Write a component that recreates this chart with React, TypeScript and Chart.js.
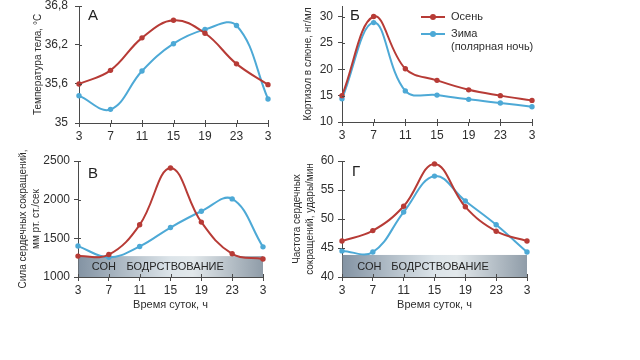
import React, { useEffect, useRef } from "react";
import { Chart, registerables } from "chart.js";

Chart.register(...registerables);

// ---------- data ----------
const hours = ["3", "7", "11", "15", "19", "23", "3"];

const tempAutumn = [35.6, 35.81, 36.31, 36.58, 36.38, 35.91, 35.59];
const tempWinter = [35.42, 35.21, 35.8, 36.22, 36.44, 36.5, 35.37];
const tempTicks = [35, 35.6, 36.2, 36.8];
const tempTickLabels = ["35", "35,6", "36,2", "36,8"];

const cortAutumn = [15, 30, 20.1, 17.9, 16.1, 15, 14.1];
const cortWinter = [14.4, 28.85, 15.9, 15.1, 14.3, 13.6, 12.9];
const cortTicks = [10, 15, 20, 25, 30];
const cortTickLabels = ["10", "15", "20", "25", "30"];

const forceAutumn = [1270, 1290, 1675, 2410, 1710, 1300, 1232];
const forceWinter = [1400, 1255, 1395, 1640, 1850, 2010, 1390];
const forceTicks = [1000, 1500, 2000, 2500];
const forceTickLabels = ["1000", "1500", "2000", "2500"];

const rateAutumn = [46.2, 48.0, 52.2, 59.5, 52.1, 47.9, 46.2];
const rateWinter = [44.5, 44.3, 51.2, 57.4, 53.1, 49.0, 44.3];
const rateTicks = [40, 45, 50, 55, 60];
const rateTickLabels = ["40", "45", "50", "55", "60"];

const bandLabels = ["СОН", "БОДРСТВОВАНИЕ"];
const seriesNames = ["Осень", "Зима", "(полярная ночь)"];

// ---------- styles ----------
const FONT = '"Liberation Sans", Arial, Helvetica, sans-serif';
const AXIS = "#4a4a4a";
const TEXT = "#2e2e2e";
const RED = "#b73b36";
const BLUE = "#4da9d6";

const decorPlugin = {
  id: "decor",
  beforeDatasetsDraw(chart: any, _args: any, opts: any) {
    const band = opts && opts.band;
    if (!band) return;
    const { ctx, chartArea } = chart;
    const x = chart.scales.x;
    const y = chart.scales.y;
    const top = y.getPixelForValue(band.top);
    const g = ctx.createLinearGradient(chartArea.left, 0, chartArea.right, 0);
    g.addColorStop(0, "#8393a3");
    g.addColorStop(0.5, "#dce4e9");
    g.addColorStop(0.62, "#e2e8eb");
    g.addColorStop(1, "#8f9ca8");
    ctx.save();
    ctx.fillStyle = g;
    ctx.fillRect(chartArea.left + 0.5, top, chartArea.right - chartArea.left - 0.5, chartArea.bottom - top);
    ctx.font = `11px ${FONT}`;
    ctx.fillStyle = "#262626";
    ctx.textAlign = "center";
    ctx.textBaseline = "middle";
    const cy = (top + chartArea.bottom) / 2 + 0.5;
    band.labels.forEach((t: string, i: number) => {
      ctx.fillText(t, x.getPixelForValue(band.at[i]), cy);
    });
    ctx.restore();
  },
  afterDraw(chart: any, _args: any, opts: any) {
    const { ctx, chartArea } = chart;
    const x = chart.scales.x;
    const y = chart.scales.y;
    ctx.save();
    ctx.strokeStyle = AXIS;
    ctx.lineWidth = 1;
    ctx.beginPath();
    x.ticks.forEach((_t: any, i: number) => {
      const px = Math.round(x.getPixelForTick(i)) + 0.5;
      ctx.moveTo(px, chartArea.bottom);
      ctx.lineTo(px, chartArea.bottom - 3);
    });
    y.ticks.forEach((_t: any, i: number) => {
      const py = Math.round(y.getPixelForTick(i)) + 0.5;
      ctx.moveTo(chartArea.left, py);
      ctx.lineTo(chartArea.left + 3, py);
    });
    ctx.stroke();
    // vertical axis title
    const t = opts && opts.yTitle;
    if (t) {
      const cy = (chartArea.top + chartArea.bottom) / 2;
      ctx.font = `10px ${FONT}`;
      ctx.fillStyle = TEXT;
      ctx.textAlign = "center";
      ctx.textBaseline = "middle";
      t.lines.forEach((line: string, i: number) => {
        ctx.save();
        ctx.translate(t.x + i * t.gap, cy);
        ctx.rotate(-Math.PI / 2);
        ctx.fillText(line, 0, 0);
        ctx.restore();
      });
    }
    ctx.restore();
  },
};

type Area = { left: number; right: number; top: number; bottom: number };
type PanelProps = {
  left: number;
  top: number;
  width: number;
  height: number;
  area: Area;
  autumn: number[];
  winter: number[];
  yMin: number;
  yMax: number;
  yTicks: number[];
  yTickLabels: string[];
  yTitle: string[];
  yTitleX: number;
  yLabelPad: number;
  xTitle?: string;
  band?: { top: number; labels: string[]; at: number[] };
};

function ds(data: number[], color: string) {
  return {
    data,
    borderColor: color,
    backgroundColor: color,
    borderWidth: 2,
    pointRadius: 2.7,
    pointBackgroundColor: color,
    pointBorderWidth: 0,
    tension: 0.4,
    fill: false,
    clip: false as any,
  };
}

function Panel(p: PanelProps) {
  const ref = useRef<HTMLCanvasElement | null>(null);
  useEffect(() => {
    if (!ref.current) return;
    const chart = new Chart(ref.current, {
      type: "line",
      data: {
        labels: hours,
        datasets: [ds(p.autumn, RED), ds(p.winter, BLUE)] as any,
      },
      options: {
        animation: false,
        responsive: false,
        devicePixelRatio: 1,
        layout: {
          padding: { left: 0, top: p.area.top, right: p.width - p.area.right, bottom: 0 },
        },
        plugins: {
          legend: { display: false },
          tooltip: { enabled: false },
          decor: { band: p.band, yTitle: { lines: p.yTitle, x: p.yTitleX, gap: 12.5 } },
        } as any,
        scales: {
          x: {
            type: "category",
            offset: false,
            grid: { display: true, drawOnChartArea: false, drawTicks: true, tickLength: 4, color: AXIS },
            border: { display: true, color: AXIS, width: 1 },
            ticks: {
              autoSkip: false,
              maxRotation: 0,
              padding: 4,
              color: TEXT,
              font: { family: FONT, size: 12, lineHeight: 1 },
            },
            title: p.xTitle
              ? {
                  display: true,
                  text: p.xTitle,
                  color: TEXT,
                  padding: 3,
                  font: { family: FONT, size: 11 },
                }
              : { display: false },
            afterFit: (s: any) => {
              s.height = p.height - p.area.bottom;
              s.paddingLeft = 0;
              s.paddingRight = 0;
            },
          },
          y: {
            type: "linear",
            min: p.yMin,
            max: p.yMax,
            grid: { display: true, drawOnChartArea: false, drawTicks: true, tickLength: 4, color: AXIS },
            border: { display: true, color: AXIS, width: 1 },
            afterBuildTicks: (s: any) => {
              s.ticks = p.yTicks.map((v) => ({ value: v }));
            },
            ticks: {
              padding: p.yLabelPad,
              color: TEXT,
              font: { family: FONT, size: 12, lineHeight: 1 },
              callback: (_v: any, i: number) => p.yTickLabels[i] ?? "",
            },
            title: { display: false },
            afterFit: (s: any) => {
              s.width = p.area.left;
              s.paddingTop = 0;
              s.paddingBottom = 0;
            },
          },
        } as any,
      },
      plugins: [decorPlugin as any],
    });
    return () => chart.destroy();
  }, []);
  return (
    <canvas
      ref={ref}
      width={p.width}
      height={p.height}
      style={{ position: "absolute", left: p.left, top: p.top, width: p.width, height: p.height }}
    />
  );
}

const letterStyle = (x: number, y: number): React.CSSProperties => ({
  position: "absolute",
  left: x,
  top: y,
  transform: "translate(-50%, -50%)",
  fontFamily: FONT,
  fontSize: 15,
  color: "#222",
  lineHeight: 1,
});

function LegendRow({ y, color, lines }: { y: number; color: string; lines: string[] }) {
  return (
    <>
      <div style={{ position: "absolute", left: 421, top: y - 1, width: 24, height: 2, background: color }} />
      <div
        style={{
          position: "absolute",
          left: 430,
          top: y - 3,
          width: 6,
          height: 6,
          borderRadius: 3,
          background: color,
        }}
      />
      <div
        style={{
          position: "absolute",
          left: 451,
          top: y - 7,
          fontFamily: FONT,
          fontSize: 11,
          lineHeight: "12.5px",
          color: TEXT,
          whiteSpace: "nowrap",
        }}
      >
        {lines.map((l, i) => (
          <div key={i}>{l}</div>
        ))}
      </div>
    </>
  );
}

export default function App() {
  return (
    <div
      style={{
        position: "fixed",
        left: 0,
        top: 0,
        width: 640,
        height: 360,
        background: "#fff",
        overflow: "hidden",
      }}
    >
      <Panel
        left={0}
        top={0}
        width={290}
        height={145}
        area={{ left: 79, right: 268, top: 6, bottom: 123 }}
        autumn={tempAutumn}
        winter={tempWinter}
        yMin={35}
        yMax={36.8}
        yTicks={tempTicks}
        yTickLabels={tempTickLabels}
        yTitle={["Температура тела, °С"]}
        yTitleX={38}
        yLabelPad={7}
      />
      <Panel
        left={290}
        top={0}
        width={350}
        height={145}
        area={{ left: 52, right: 242, top: 6, bottom: 122 }}
        autumn={cortAutumn}
        winter={cortWinter}
        yMin={10}
        yMax={32}
        yTicks={cortTicks}
        yTickLabels={cortTickLabels}
        yTitle={["Кортизол в слюне, нг/мл"]}
        yTitleX={18}
        yLabelPad={5}
      />
      <Panel
        left={0}
        top={145}
        width={290}
        height={170}
        area={{ left: 78, right: 263, top: 16, bottom: 132 }}
        autumn={forceAutumn}
        winter={forceWinter}
        yMin={1000}
        yMax={2500}
        yTicks={forceTicks}
        yTickLabels={forceTickLabels}
        yTitle={["Сила сердечных сокращений,", "мм рт. ст./сек"]}
        yTitleX={23.5}
        yLabelPad={4}
        xTitle="Время суток, ч"
        band={{ top: 1270, labels: bandLabels, at: [0.84, 3.15] }}
      />
      <Panel
        left={280}
        top={145}
        width={360}
        height={170}
        area={{ left: 62, right: 247, top: 16, bottom: 132 }}
        autumn={rateAutumn}
        winter={rateWinter}
        yMin={40}
        yMax={60}
        yTicks={rateTicks}
        yTickLabels={rateTickLabels}
        yTitle={["Частота сердечных", "сокращений, удары/мин"]}
        yTitleX={17.5}
        yLabelPad={4}
        xTitle="Время суток, ч"
        band={{ top: 43.8, labels: bandLabels, at: [0.89, 3.18] }}
      />
      <div style={letterStyle(93, 14)}>А</div>
      <div style={letterStyle(355, 14)}>Б</div>
      <div style={letterStyle(93, 172)}>В</div>
      <div style={letterStyle(356, 170)}>Г</div>
      <LegendRow y={17} color={RED} lines={[seriesNames[0]]} />
      <LegendRow y={34} color={BLUE} lines={[seriesNames[1], seriesNames[2]]} />
    </div>
  );
}
